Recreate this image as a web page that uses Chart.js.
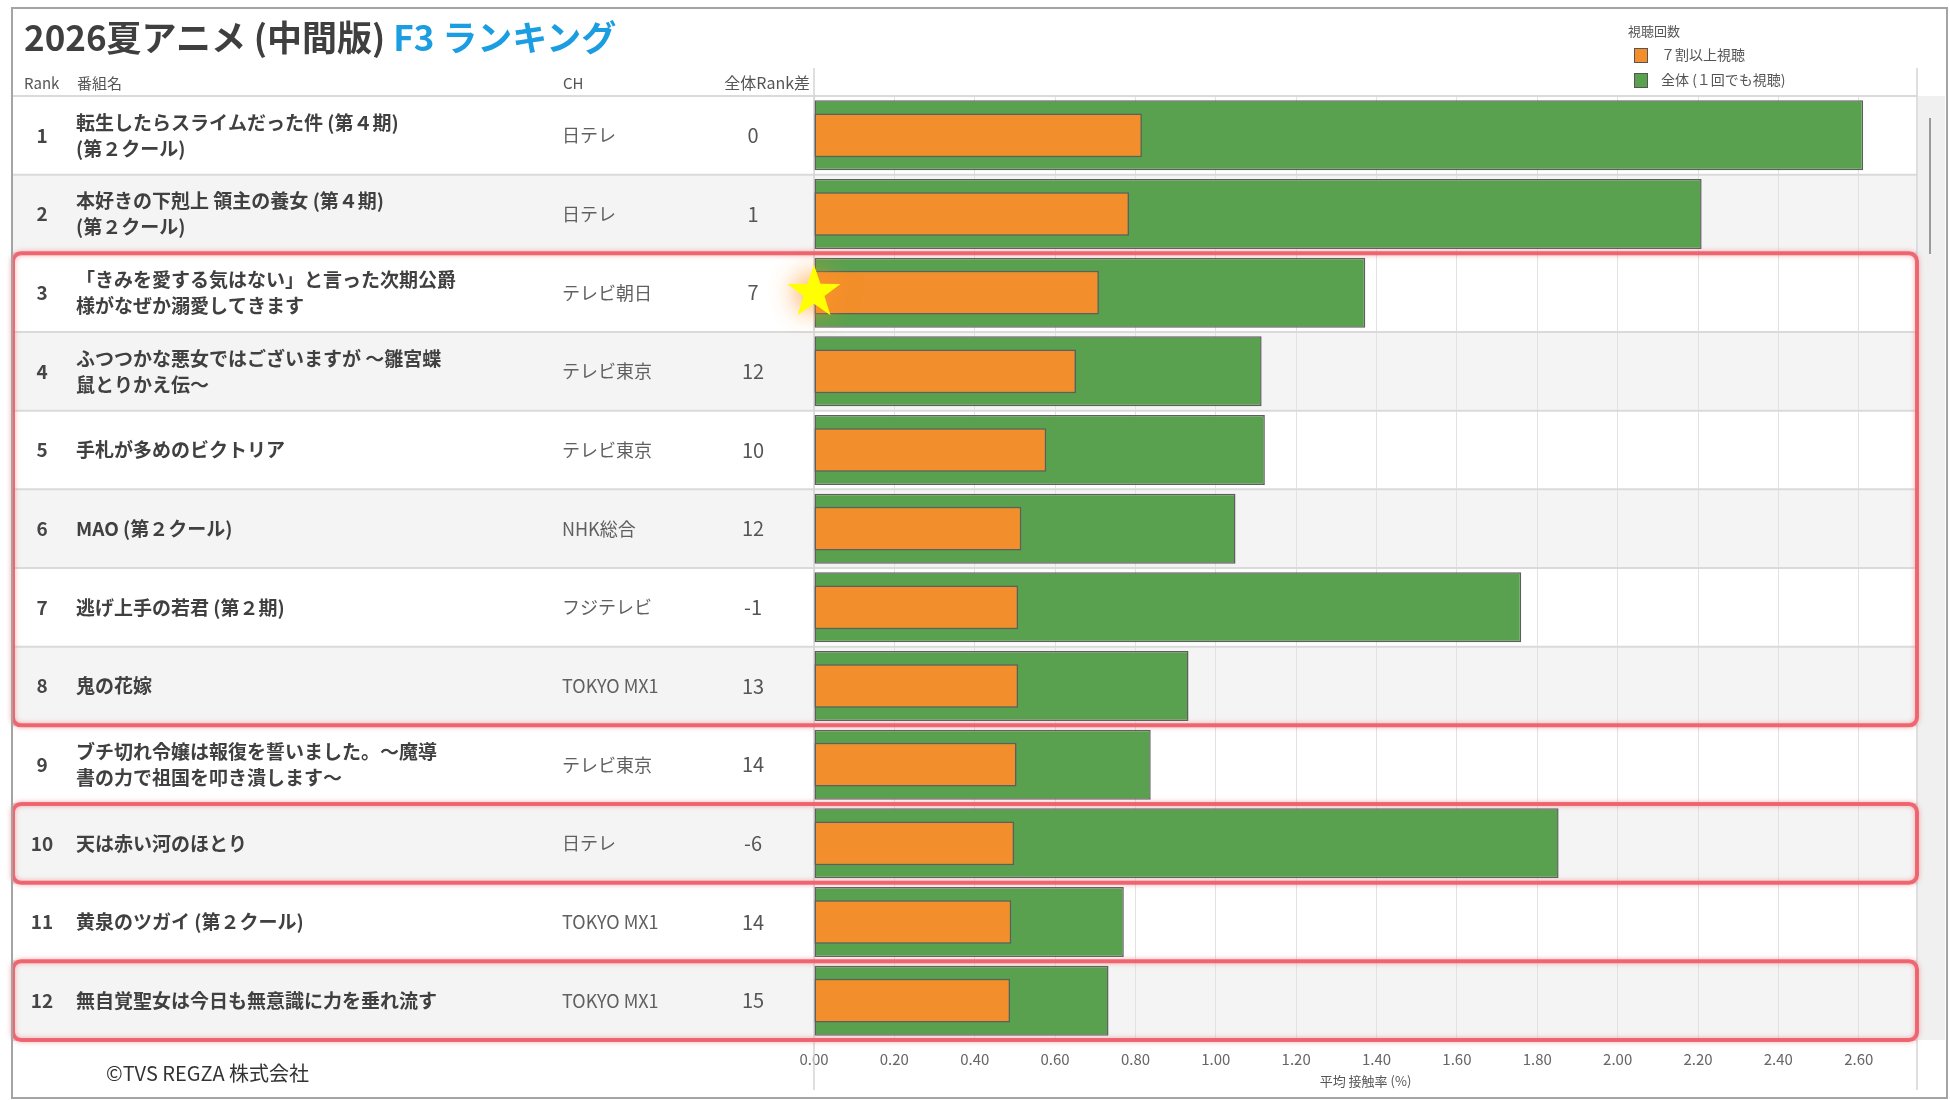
<!DOCTYPE html>
<html lang="ja">
<head>
<meta charset="utf-8">
<title>2026夏アニメ（中間版） F3 ランキング</title>
<script src="https://cdn.jsdelivr.net/npm/chart.js@4.4.1/dist/chart.umd.min.js"></script>
<style>
  html, body { margin: 0; padding: 0; background: #fff; }
  body { width: 1950px; height: 1100px; position: relative; overflow: hidden;
         font-family: "Noto Sans CJK JP", "Noto Sans", sans-serif; }
  #chart { position: absolute; left: 0; top: 0; }
  #frame { position: absolute; left: 11px; top: 7px; width: 1933px; height: 1088px;
           border: 2px solid #a4a4a4; pointer-events: none; }
  #title { position: absolute; left: 24px; top: 14px; line-height: 44px; font-size: 35px;
           font-weight: bold; color: #3f3f3f; white-space: nowrap; }
  #title span { color: #1b9de2; }
  #credit { position: absolute; left: 106px; top: 1060px; line-height: 26px; font-size: 20px;
            color: #333; white-space: nowrap; }
</style>
</head>
<body>
<canvas id="chart" width="1950" height="1100"></canvas>
<div id="frame"></div>
<div id="title">2026夏アニメ (中間版) <span>F3 ランキング</span></div>
<div id="credit">©TVS REGZA 株式会社</div>
<script>
// ranking table
const RANKS = ['1', '2', '3', '4', '5', '6', '7', '8', '9', '10', '11', '12'];
const TITLES = [
    ['転生したらスライムだった件 (第４期)', '(第２クール)'],
    ['本好きの下剋上 領主の養女 (第４期)', '(第２クール)'],
    ['「きみを愛する気はない」と言った次期公爵', '様がなぜか溺愛してきます'],
    ['ふつつかな悪女ではございますが ～雛宮蝶', '鼠とりかえ伝～'],
    ['手札が多めのビクトリア'],
    ['MAO (第２クール)'],
    ['逃げ上手の若君 (第２期)'],
    ['鬼の花嫁'],
    ['ブチ切れ令嬢は報復を誓いました。～魔導', '書の力で祖国を叩き潰します～'],
    ['天は赤い河のほとり'],
    ['黄泉のツガイ (第２クール)'],
    ['無自覚聖女は今日も無意識に力を垂れ流す'],
];
const CHANNELS = ['日テレ', '日テレ', 'テレビ朝日', 'テレビ東京', 'テレビ東京', 'NHK総合',
    'フジテレビ', 'TOKYO MX1', 'テレビ東京', '日テレ', 'TOKYO MX1', 'TOKYO MX1'];
const RANK_DIFFS = ['0', '1', '7', '12', '10', '12', '-1', '13', '14', '-6', '14', '15'];

// 平均接触率 (%)
const HEAVY_VIEW = [0.816, 0.784, 0.709, 0.652, 0.578, 0.516, 0.508, 0.508, 0.504, 0.498, 0.491, 0.488];
const ANY_VIEW = [2.611, 2.209, 1.372, 1.114, 1.122, 1.049, 1.760, 0.932, 0.838, 1.853, 0.771, 0.733];

// highlighted row groups (first, last index) and the starred row
const HIGHLIGHTS = [[2, 7], [9, 9], [11, 11]];
const STAR_ROW = 2;

const TABLE_LEFT = 13;
const FONT = '"Noto Sans CJK JP", "Noto Sans", sans-serif';

function rowHeight(chart) {
    const a = chart.chartArea;
    return (a.bottom - a.top) / RANKS.length;
}

function drawStar(ctx, cx, cy, outer, inner) {
    ctx.beginPath();
    for (let k = 0; k < 10; k++) {
        const r = k % 2 ? inner : outer;
        const ang = -Math.PI / 2 + k * Math.PI / 5;
        ctx.lineTo(cx + r * Math.cos(ang), cy + r * Math.sin(ang));
    }
    ctx.closePath();
    ctx.fill();
}

const rankTable = {
    id: 'rankTable',
    beforeDraw(chart) {
        const { ctx, chartArea: a, scales: { y } } = chart;
        const h = rowHeight(chart);
        ctx.save();
        RANKS.forEach((r, i) => {
            const yc = y.getPixelForValue(i);
            ctx.fillStyle = i % 2 ? '#f4f4f4' : '#ffffff';
            ctx.fillRect(TABLE_LEFT, yc - h / 2, a.right - TABLE_LEFT, h);
        });
        // scroll strip on the right
        ctx.fillStyle = '#f0f0f0';
        ctx.fillRect(a.right + 1, a.top, 1945 - a.right - 1, a.bottom - a.top);
        ctx.fillStyle = '#9a9a9a';
        ctx.fillRect(a.right + 12, a.top + 22, 2, 136);
        ctx.restore();
    },
    beforeDatasetsDraw(chart) {
        const { ctx, chartArea: a, scales: { y } } = chart;
        const h = rowHeight(chart);
        ctx.save();
        // row separators
        ctx.strokeStyle = '#dadada';
        ctx.lineWidth = 2;
        for (let i = 0; i <= RANKS.length; i++) {
            const yy = y.getPixelForValue(i) - h / 2;
            ctx.beginPath();
            ctx.moveTo(TABLE_LEFT, yy);
            ctx.lineTo(a.right, yy);
            ctx.stroke();
        }
        // pane borders
        ctx.strokeStyle = '#d4d4d4';
        ctx.lineWidth = 1.5;
        [a.left, a.right].forEach(xx => {
            ctx.beginPath();
            ctx.moveTo(xx, 68);
            ctx.lineTo(xx, 1090);
            ctx.stroke();
        });

        // header
        const hy = a.top - 13;
        ctx.textBaseline = 'middle';
        ctx.fillStyle = '#555';
        ctx.font = '15px ' + FONT;
        ctx.textAlign = 'left';
        ctx.fillText('Rank', 24, hy);
        ctx.fillText('番組名', 77, hy);
        ctx.fillText('CH', 563, hy);
        ctx.textAlign = 'right';
        ctx.font = '16px ' + FONT;
        ctx.fillText('全体Rank差', 810, hy);

        // rows
        RANKS.forEach((r, i) => {
            const yc = y.getPixelForValue(i);
            ctx.textAlign = 'center';
            ctx.fillStyle = '#454545';
            ctx.font = 'bold 19px ' + FONT;
            ctx.fillText(r, 42, yc);

            ctx.textAlign = 'left';
            ctx.fillStyle = '#404040';
            const lines = TITLES[i];
            lines.forEach((t, k) => {
                const off = (k - (lines.length - 1) / 2) * 26;
                ctx.fillText(t, 76, yc + off);
            });

            ctx.font = '18px ' + FONT;
            ctx.fillStyle = '#606060';
            ctx.fillText(CHANNELS[i], 562, yc);

            ctx.textAlign = 'center';
            ctx.font = '20px ' + FONT;
            ctx.fillStyle = '#555';
            ctx.fillText(RANK_DIFFS[i], 753, yc);
        });
        ctx.restore();
    },
    afterDraw(chart) {
        const { ctx, chartArea: a, scales: { x, y } } = chart;
        const h = rowHeight(chart);
        ctx.save();
        // highlight boxes
        ctx.strokeStyle = 'rgba(238, 86, 96, 0.85)';
        ctx.lineWidth = 4;
        ctx.shadowColor = 'rgba(240, 110, 120, 0.7)';
        ctx.shadowBlur = 5;
        HIGHLIGHTS.forEach(([s, e]) => {
            const top = y.getPixelForValue(s) - h / 2;
            const bot = y.getPixelForValue(e) + h / 2;
            ctx.beginPath();
            ctx.roundRect(TABLE_LEFT, top, a.right - TABLE_LEFT, bot - top, 8);
            ctx.stroke();
        });

        // star on the zero line
        ctx.shadowColor = 'rgba(255, 150, 40, 1)';
        ctx.shadowBlur = 26;
        ctx.fillStyle = '#ffff00';
        drawStar(ctx, x.getPixelForValue(0), y.getPixelForValue(STAR_ROW), 28, 11);
        ctx.shadowBlur = 0;

        // legend
        const lx = 1628;
        ctx.textBaseline = 'middle';
        ctx.textAlign = 'left';
        ctx.fillStyle = '#555';
        ctx.font = '13px ' + FONT;
        ctx.fillText('視聴回数', lx, 31);
        ctx.font = '14px ' + FONT;
        chart.data.datasets.forEach((ds, k) => {
            const cy = 55 + k * 25;
            ctx.fillStyle = ds.backgroundColor;
            ctx.fillRect(lx + 6, cy - 7, 14, 15);
            ctx.strokeStyle = '#555';
            ctx.lineWidth = 1;
            ctx.strokeRect(lx + 6.5, cy - 6.5, 13, 14);
            ctx.fillStyle = '#555';
            ctx.fillText(ds.label, lx + 33, cy);
        });
        ctx.restore();
    }
};

new Chart(document.getElementById('chart'), {
    type: 'bar',
    data: {
        labels: RANKS,
        datasets: [
            {
                label: '７割以上視聴',
                data: HEAVY_VIEW,
                backgroundColor: '#F28E2B',
                borderColor: '#5e5e5e',
                borderWidth: 1.5,
                borderSkipped: false,
                barPercentage: 0.555,
                categoryPercentage: 1,
            },
            {
                label: '全体 (１回でも視聴)',
                data: ANY_VIEW,
                backgroundColor: '#59A14F',
                borderColor: '#5e5e5e',
                borderWidth: 1.5,
                borderSkipped: false,
                barPercentage: 0.89,
                categoryPercentage: 1,
            }
        ]
    },
    options: {
        indexAxis: 'y',
        responsive: false,
        animation: false,
        layout: { padding: { left: 814, right: 33, top: 96, bottom: 0 } },
        plugins: { legend: { display: false }, tooltip: { enabled: false } },
        scales: {
            y: { display: false, stacked: false },
            x: {
                min: 0,
                max: 2.745,
                afterFit: s => { s.height = 60; },
                grid: { color: '#e2e2e2', lineWidth: 1, drawTicks: false },
                border: { display: false },
                ticks: {
                    stepSize: 0.2,
                    includeBounds: false,
                    padding: 10,
                    color: '#666',
                    font: { family: FONT, size: 15 },
                    callback: v => v.toFixed(2)
                },
                title: {
                    display: true,
                    text: '平均 接触率 (%)',
                    color: '#555',
                    font: { family: FONT, size: 13 },
                    padding: { top: 0, bottom: 11 }
                }
            }
        },
        datasets: { bar: { grouped: false } }
    },
    plugins: [rankTable]
});
</script>
</body>
</html>
